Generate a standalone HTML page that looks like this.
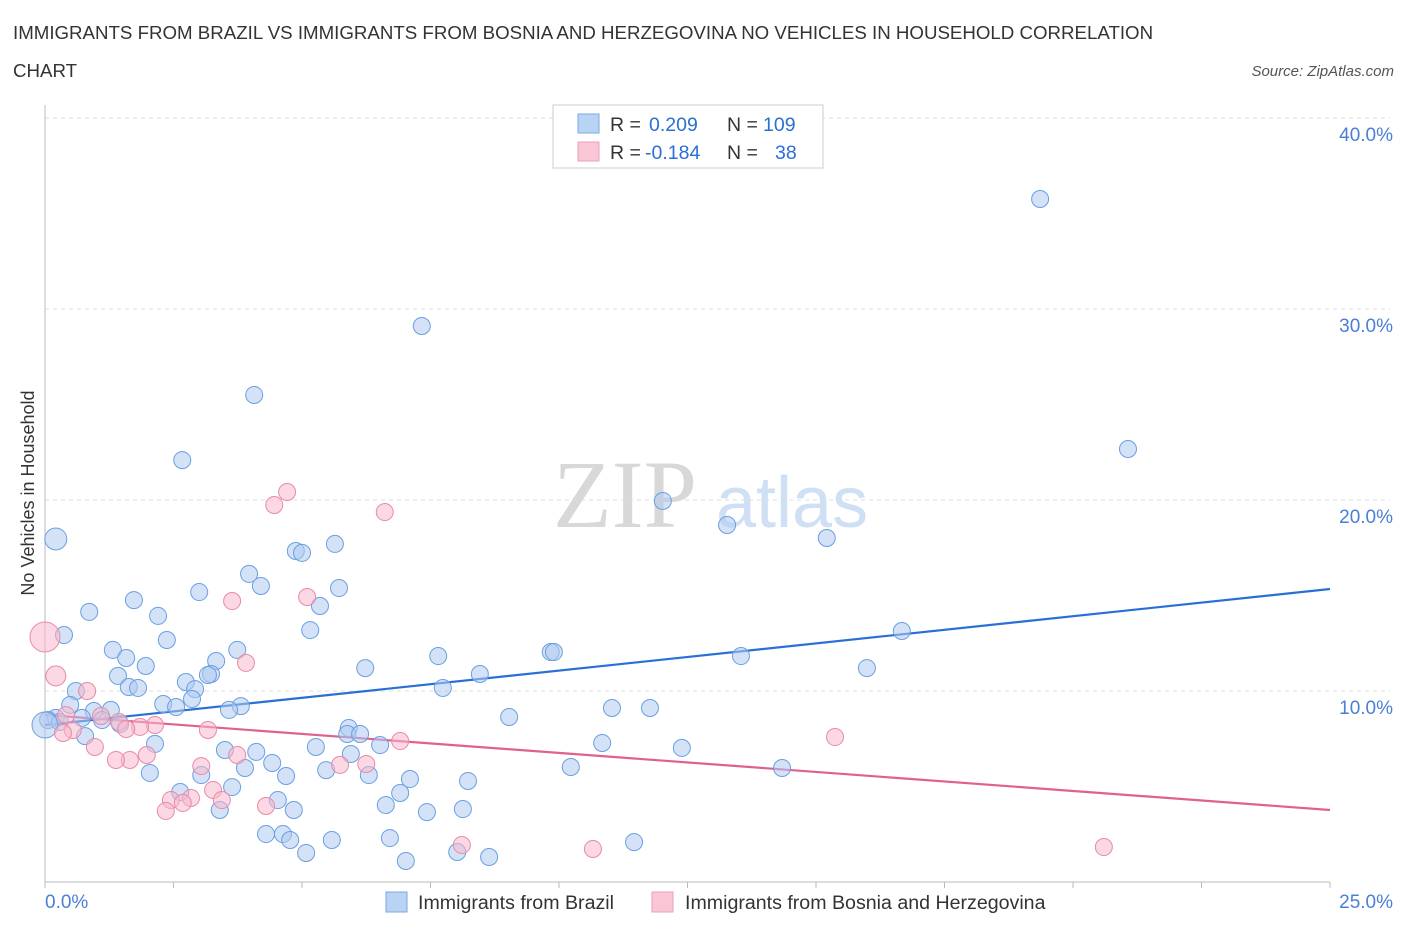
<!DOCTYPE html>
<html><head><meta charset="utf-8"><style>
body{margin:0;background:#fff;font-family:"Liberation Sans",sans-serif;}
svg text{font-family:"Liberation Sans",sans-serif;}
</style></head><body>
<svg id="chart" width="1406" height="930" xmlns="http://www.w3.org/2000/svg">
<text x="13" y="39" font-size="18.7" fill="#333">IMMIGRANTS FROM BRAZIL VS IMMIGRANTS FROM BOSNIA AND HERZEGOVINA NO VEHICLES IN HOUSEHOLD CORRELATION</text>
<text x="13" y="77" font-size="18.7" fill="#333">CHART</text>
<text x="1394" y="76" font-size="15" fill="#555" font-style="italic" text-anchor="end">Source: ZipAtlas.com</text>
<g>
<text x="553" y="527" font-size="96" fill="#d8d8d8" font-family="Liberation Serif" style="font-family:'Liberation Serif',serif">ZIP</text>
<text x="716" y="527" font-size="72" fill="#cfe0f5">atlas</text>
</g>
<g id="grid"></g>
<g id="axes"></g>
<g id="trends"></g>
<g id="points"></g>
<g>
<rect x="553" y="105" width="270" height="63" fill="#fff" stroke="#ccc"/>
<rect x="578" y="114" width="21" height="19" fill="#b9d3f5" stroke="#7aa8e6"/>
<rect x="578" y="142" width="21" height="19" fill="#f9c6d6" stroke="#eaa0b8"/>
<text x="610" y="131" font-size="19.5" fill="#333">R =</text>
<text x="649" y="131" font-size="19.5" fill="#2a6fd6">0.209</text>
<text x="727" y="131" font-size="19.5" fill="#333">N =</text>
<text x="763" y="131" font-size="19.5" fill="#2a6fd6">109</text>
<text x="610" y="159" font-size="19.5" fill="#333">R =</text>
<text x="645" y="159" font-size="19.5" fill="#2a6fd6">-0.184</text>
<text x="727" y="159" font-size="19.5" fill="#333">N =</text>
<text x="775" y="159" font-size="19.5" fill="#2a6fd6">38</text>
</g>
<g>
<rect x="386" y="892" width="21" height="20" fill="#b9d3f5" stroke="#7aa8e6"/>
<text x="418" y="909" font-size="19.6" fill="#333">Immigrants from Brazil</text>
<rect x="652" y="892" width="21" height="20" fill="#f9c6d6" stroke="#eaa0b8"/>
<text x="685" y="909" font-size="19.6" fill="#333">Immigrants from Bosnia and Herzegovina</text>
</g>
<text transform="translate(34,493) rotate(-90)" font-size="18" fill="#333" text-anchor="middle">No Vehicles in Household</text>
</svg>
<script>
const blueX=[19.36,7.33,4.07,21.07,2.67,12.02,13.27,15.21,0.21,4.88,5.00,5.64,3.97,4.20,5.72,3.00,1.73,5.35,0.86,2.20,0.37,5.16,16.67,2.37,1.32,3.74,9.84,9.90,1.58,7.65,13.54,3.33,1.96,6.23,15.99,1.42,3.23,3.17,8.46,2.74,1.63,1.81,2.92,7.74,0.60,2.86,2.30,3.81,2.55,3.58,0.49,0.95,1.28,11.03,11.77,9.03,0.21,0.06,0.72,1.11,1.46,0.29,5.91,5.88,6.13,0.78,2.14,5.27,6.52,10.84,12.39,3.50,4.11,5.95,4.42,3.89,10.23,14.34,2.04,3.04,4.69,5.47,6.30,7.10,8.23,3.64,2.63,6.91,4.53,6.63,4.84,8.13,3.40,7.43,6.71,4.30,4.63,4.77,5.58,11.46,5.08,8.02,8.64,7.02,0.00];
const blueY=[35.76,29.11,25.50,22.67,22.09,19.95,18.69,18.01,17.96,17.33,17.23,17.70,16.13,15.50,15.39,15.18,14.76,14.45,14.14,13.93,12.93,13.19,13.14,12.67,12.15,12.15,12.04,12.04,11.73,11.83,11.83,11.57,11.31,11.20,11.20,10.79,10.89,10.84,10.89,10.47,10.21,10.16,10.10,10.16,10.00,9.58,9.32,9.21,9.16,9.01,9.27,8.95,9.01,9.11,9.11,8.64,8.59,8.48,8.59,8.48,8.27,8.38,8.06,7.75,7.75,7.64,7.23,7.07,7.17,7.28,7.02,6.91,6.81,6.70,6.23,5.97,6.02,5.97,5.71,5.60,5.55,5.86,5.60,5.39,5.29,4.97,4.71,4.66,4.29,4.03,3.77,3.82,3.77,3.66,2.30,2.51,2.51,2.20,2.20,2.09,1.52,1.57,1.31,1.10,8.22];
const pinkX=[0,0.21,4.71,4.46,6.61,3.64,5.10,3.91,0.82,0.41,1.09,1.44,2.14,1.85,0.54,1.58,3.17,3.74,0.97,0.35,6.91,15.37,5.74,1.98,1.65,1.38,6.25,3.04,3.27,3.44,2.45,2.84,2.68,2.35,4.30,8.11,10.66,20.60];
const pinkY=[12.83,10.79,20.42,19.74,19.37,14.71,14.92,11.47,10.00,8.74,8.69,8.38,8.22,8.12,7.96,8.01,7.96,6.65,7.07,7.80,7.38,7.59,6.13,6.65,6.39,6.39,6.18,6.07,4.82,4.29,4.29,4.40,4.14,3.72,3.98,1.94,1.73,1.83];
const blueTrend=[8.22,15.34];
const pinkTrend=[8.75,3.77];
const xTickLabels=["0.0%","25.0%"];
const yTicks=[10,20,30,40];
const yTickLabels=["10.0%","20.0%","30.0%","40.0%"];
const NS="http://www.w3.org/2000/svg";
const X0=45,X1=1330,Y0=882,YPER=19.1;
const sx=v=>X0+(v/25)*(X1-X0);
const sy=v=>Y0-v*YPER;
function mk(tag,attrs,parent){const e=document.createElementNS(NS,tag);for(const k in attrs)e.setAttribute(k,attrs[k]);document.getElementById(parent).appendChild(e);return e;}
yTicks.forEach((t,i)=>{
 const l=mk('line',{x1:X0,x2:X1+60,y1:sy(t),y2:sy(t),stroke:'#ddd','stroke-dasharray':'4,4'},'grid');
 
 
 const tx=mk('text',{x:1393,y:sy(t)+23,'font-size':19,fill:'#4a7fd6','text-anchor':'end'},'axes');
 tx.textContent=yTickLabels[i];
 
 
});
const ax=mk('line',{x1:X0,x2:X0,y1:105,y2:Y0,stroke:'#bbb'},'axes');


const bx=mk('line',{x1:X0,x2:X1,y1:Y0,y2:Y0,stroke:'#bbb'},'axes');


for(let i=0;i<=10;i++){const t=mk('line',{x1:sx(i*2.5),x2:sx(i*2.5),y1:Y0,y2:Y0+6,stroke:'#bbb'},'axes');
 
 }
const xl0=mk('text',{x:45,y:908,'font-size':19,fill:'#4a7fd6'},'axes');xl0.textContent=xTickLabels[0];


const xl1=mk('text',{x:1393,y:908,'font-size':19,fill:'#4a7fd6','text-anchor':'end'},'axes');xl1.textContent=xTickLabels[1];


function dots(xs,ys,fill,stroke,name){xs.forEach((v,i)=>{
 let r=8.5; if(name==='blue-point'&&(i===8||i===xs.length-1))r=i===8?11:13;
 if(name==='pink-point'&&i===0)r=15; if(name==='pink-point'&&i===1)r=10;
 const c=mk('circle',{cx:sx(v),cy:sy(ys[i]),r:r,fill:fill,stroke:stroke,'stroke-width':1,'fill-opacity':0.55},'points');
 
 
});}
dots(blueX,blueY,'#aecbf0','#6a9fe0','blue-point');
dots(pinkX,pinkY,'#f7b8cc','#e88aa8','pink-point');
const bl=mk('line',{x1:sx(0),y1:sy(blueTrend[0]),x2:sx(25),y2:sy(blueTrend[1]),stroke:'#2a6fd6','stroke-width':2.2},'trends');


const pl=mk('line',{x1:sx(0),y1:sy(pinkTrend[0]),x2:sx(25),y2:sy(pinkTrend[1]),stroke:'#e0608f','stroke-width':2.2},'trends');


</script>
</body></html>
